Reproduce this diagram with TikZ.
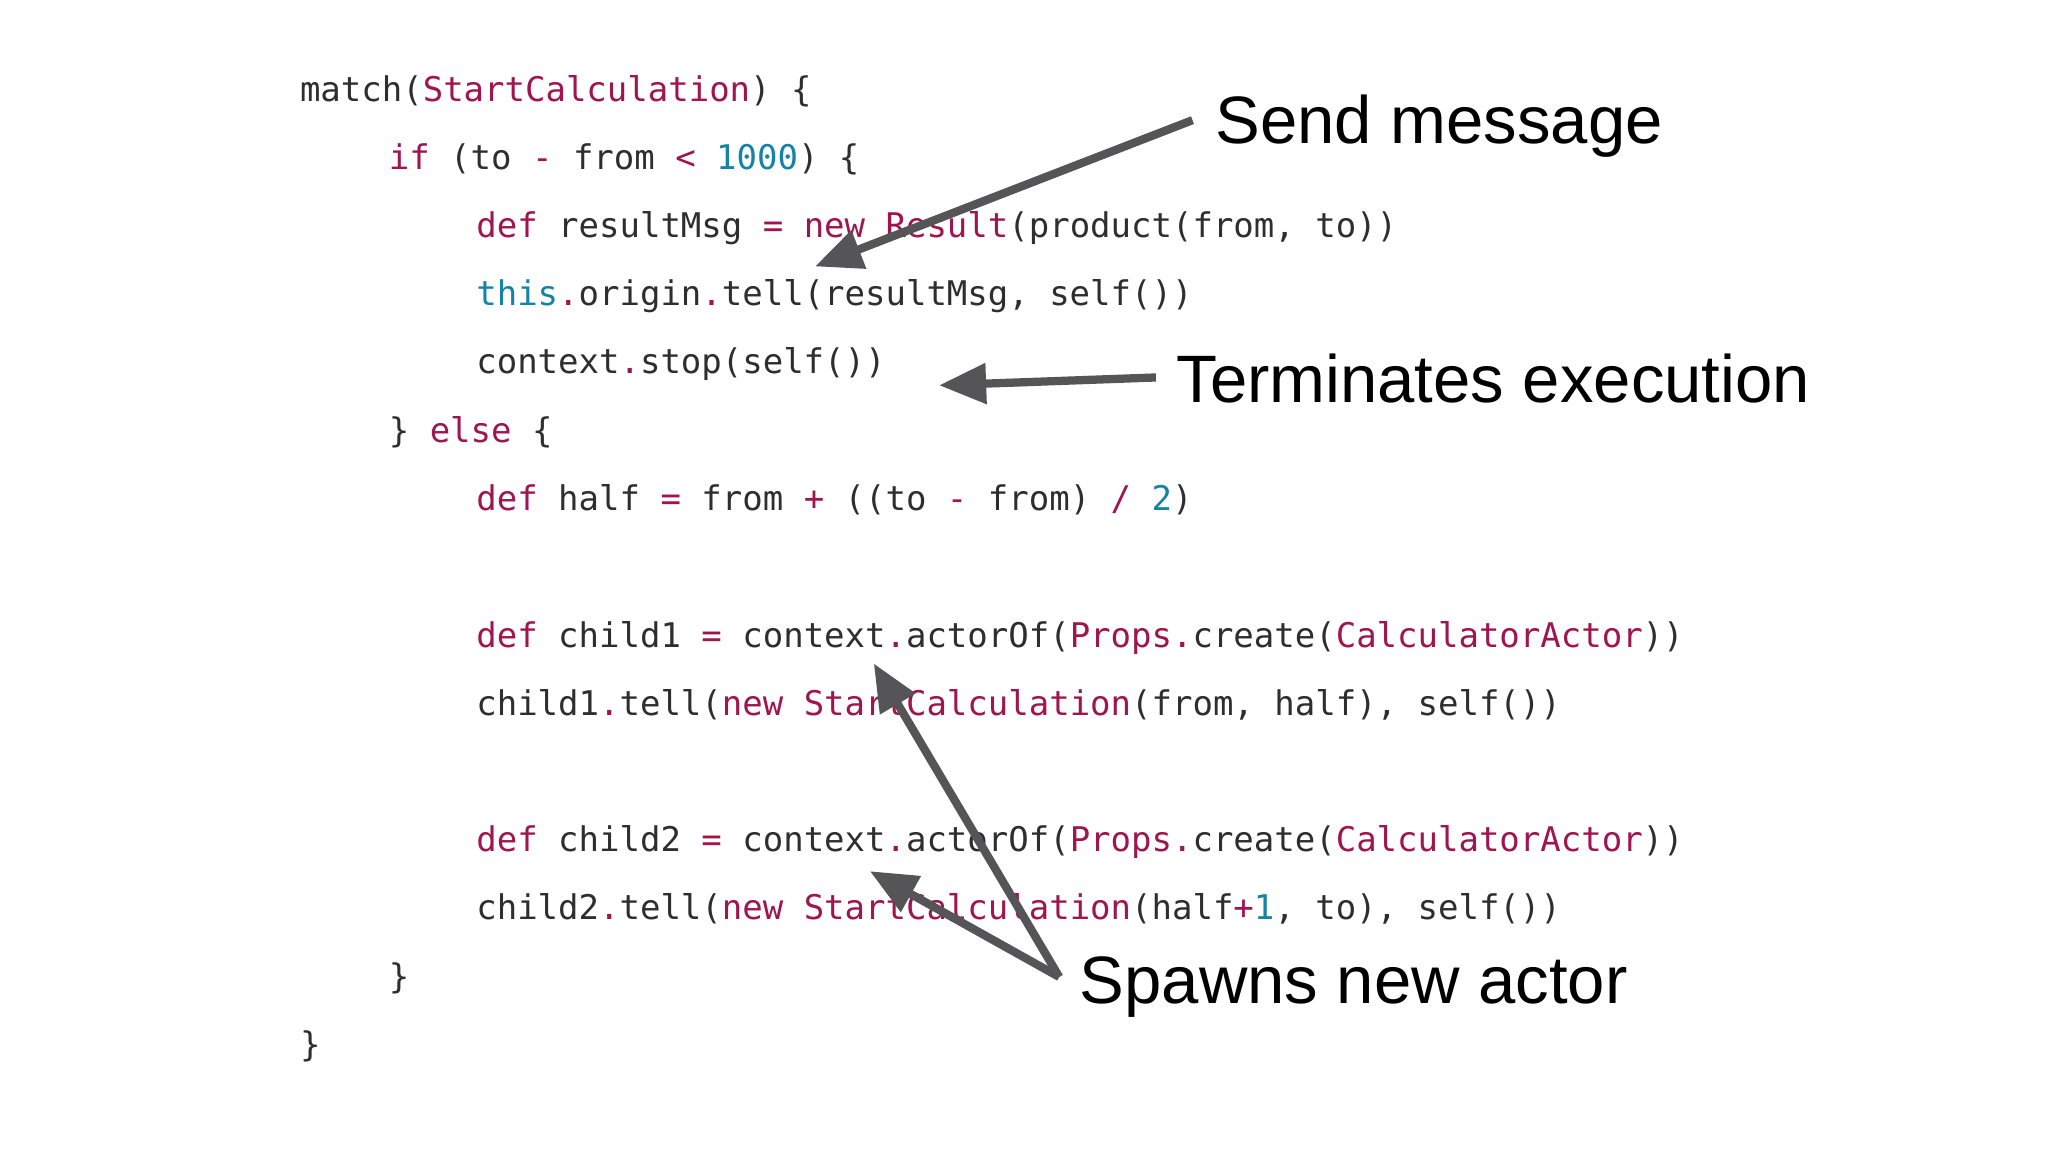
\documentclass[tikz,border=0pt]{standalone}
\usepackage{fontspec}
\setmainfont{Liberation Sans}
\newfontfamily\codefont{DejaVu Sans Mono}
\usetikzlibrary{arrows.meta}
\definecolor{kwcol}{HTML}{A0154F}
\definecolor{numcol}{HTML}{1582A8}
\definecolor{txtcol}{HTML}{2E2E2E}
\definecolor{arrcol}{HTML}{555558}
\newcommand{\kwc}[1]{\textcolor{kwcol}{#1}}
\newcommand{\blc}[1]{\textcolor{numcol}{#1}}
\begin{document}
\begin{tikzpicture}[x=0.01cm,y=-0.01cm,
  code/.style={anchor=base west,inner sep=0pt,text=txtcol,font=\codefont\fontsize{7.4pt}{9pt}\selectfont},
  lbl/.style={anchor=base west,inner sep=0pt,font=\fontsize{14.6pt}{17pt}\selectfont},
  arr/.style={draw=arrcol,line width=1.8pt,-{Triangle[length=0.36cm,width=0.3cm]}}]
\useasboundingbox[fill=white] (0,0) rectangle (1568,882);
\node[code] (l1) at (229,78) {match(\kwc{StartCalculation}) \{};
\node[code] (l2) at (297,130) {\kwc{if} (to \kwc{-} from \kwc{<} \blc{1000}) \{};
\node[code] (l3) at (364,182) {\kwc{def} resultMsg \kwc{=} \kwc{new} \kwc{Result}(product(from, to))};
\node[code] (l4) at (364,234) {\blc{this}\kwc{.}origin\kwc{.}tell(resultMsg, self())};
\node[code] (l5) at (364,286) {context\kwc{.}stop(self())};
\node[code] (l6) at (297,339) {\} \kwc{else} \{};
\node[code] (l7) at (364,391) {\kwc{def} half \kwc{=} from \kwc{+} ((to \kwc{-} from) \kwc{/} \blc{2})};
\node[code] (l8) at (364,496) {\kwc{def} child1 \kwc{=} context\kwc{.}actorOf(\kwc{Props}\kwc{.}create(\kwc{CalculatorActor}))};
\node[code] (l9) at (364,548) {child1\kwc{.}tell(\kwc{new} \kwc{StartCalculation}(from, half), self())};
\node[code] (l10) at (364,652) {\kwc{def} child2 \kwc{=} context\kwc{.}actorOf(\kwc{Props}\kwc{.}create(\kwc{CalculatorActor}))};
\node[code] (l11) at (364,704) {child2\kwc{.}tell(\kwc{new} \kwc{StartCalculation}(half\kwc{+}\blc{1}, to), self())};
\node[code] (l12) at (297,757) {\}};
\node[code] (l13) at (229,809) {\}};
\node[lbl] (send) at (930,110) {Send message};
\node[lbl] (term) at (900,308) {Terminates execution};
\node[lbl] (spawn) at (826,768) {Spawns new actor};
\coordinate (s0) at (913,92);
\coordinate (s1) at (624,204);
\coordinate (t0) at (885,289);
\coordinate (t1) at (719,295);
\coordinate (p0) at (811,748);
\coordinate (p1) at (669,508);
\coordinate (p2) at (666,667);
\draw[arr] (s0) -- (s1);
\draw[arr] (t0) -- (t1);
\draw[arr] (p0) -- (p1);
\draw[arr] (p0) -- (p2);
\end{tikzpicture}
\end{document}
